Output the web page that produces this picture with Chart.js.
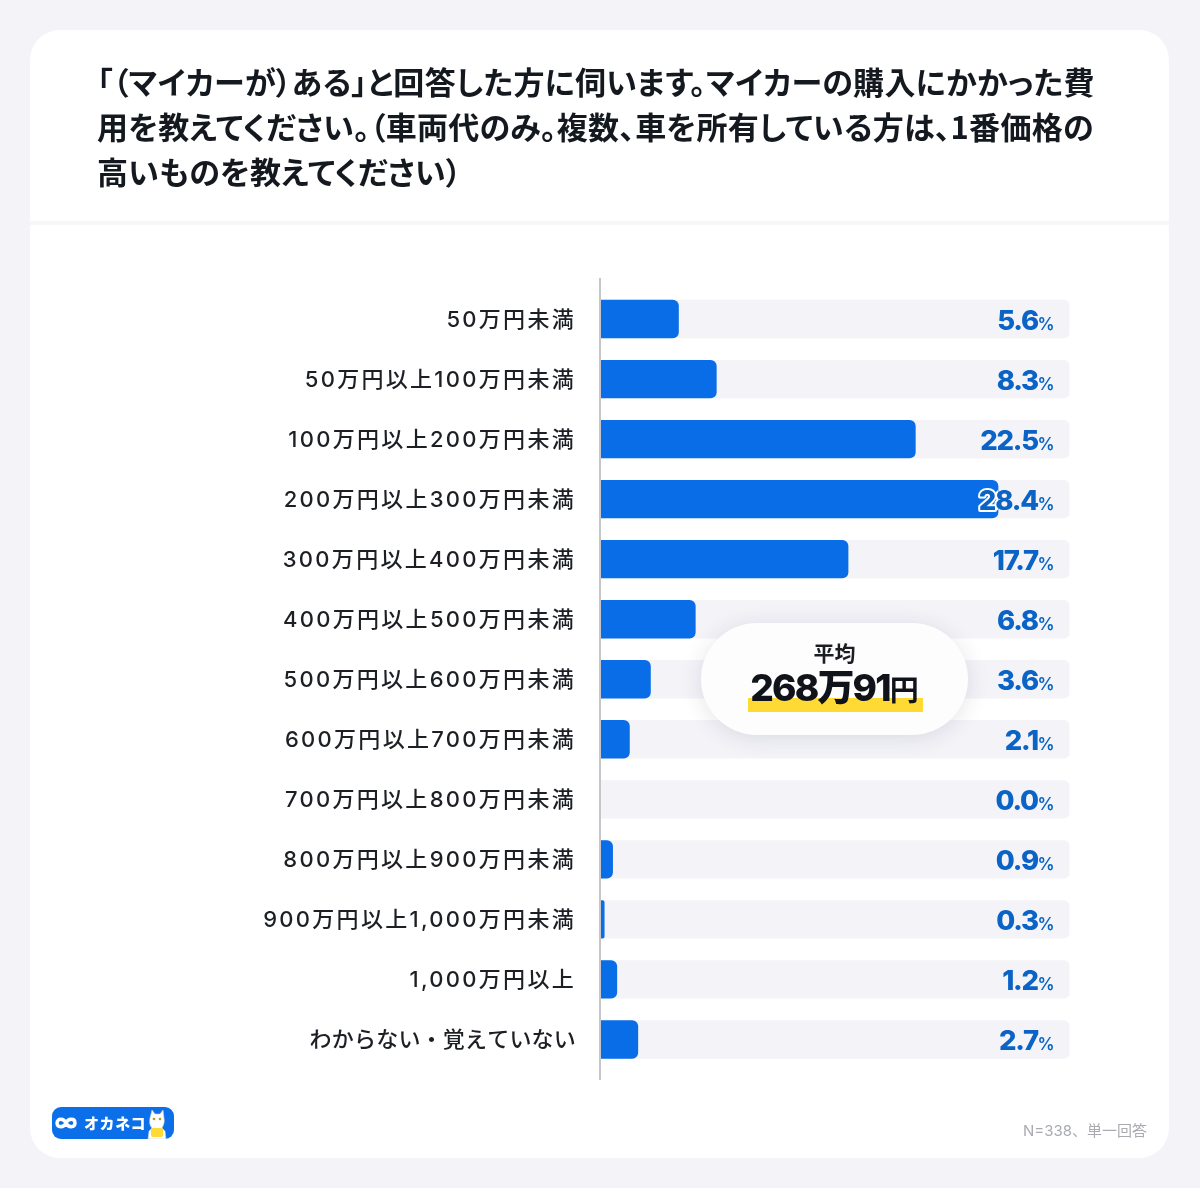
<!DOCTYPE html>
<html lang="ja"><head><meta charset="utf-8">
<script src="https://cdn.jsdelivr.net/npm/chart.js@4"></script>
<style>
html,body{margin:0;padding:0;background:#f3f3f8;width:1200px;height:1188px;overflow:hidden}
body{position:relative;font-family:'Noto Sans CJK JP',sans-serif}
#card{position:absolute;left:30px;top:30px;width:1139px;height:1128px;background:#fff;border-radius:30px}
#rule{position:absolute;left:30px;top:221px;width:1139px;height:4px;background:#f7f7fa}
#chart{position:absolute;left:0;top:0}
#title{position:absolute;left:97px;top:58px;width:1030px;font-weight:700;font-size:31px;line-height:45px;color:#14181f;font-feature-settings:"palt";white-space:nowrap;letter-spacing:.28px}
#pill{position:absolute;left:701px;top:623px;width:267px;height:112px;border-radius:56px;background:#fdfdfe;box-shadow:0 3px 22px rgba(40,40,70,.12)}
#pillA{position:absolute;left:0;right:0;top:13px;text-align:center;font-size:21px;font-weight:700;line-height:32px;color:#1a1d22}
#mark{position:absolute;left:47px;top:75px;width:175px;height:14px;background:#ffd934}
#pillB{position:absolute;left:0;right:0;top:41px;text-align:center;font:800 37px/48px Inter,'Noto Sans CJK JP';letter-spacing:-1.8px;color:#10141a}
#pillB small{font:700 29px/48px 'Noto Sans CJK JP';letter-spacing:0}
#note{position:absolute;right:53px;top:1121px;font:15px/20px Inter,'Noto Sans CJK JP';color:#a9abb1}
#logo{position:absolute;left:52px;top:1107px;width:122px;height:32px;border-radius:9px;background:#0a6fe8;overflow:hidden}
#logoT{position:absolute;left:32px;top:0;font-weight:900;font-size:15px;line-height:31px;color:#fff;letter-spacing:.6px}
#logo svg{position:absolute;left:0;top:0}
</style></head><body>
<div id="card"></div><div id="rule"></div>
<canvas id="chart" width="1200" height="1188"></canvas>
<div id="title">「（マイカーが）ある」と回答した方に伺います。マイカーの購入にかかった費<br>用を教えてください。（車両代のみ。複数、車を所有している方は、1番価格の<br>高いものを教えてください）</div>
<div id="pill"><div id="pillA">平均</div><div id="mark"></div><div id="pillB">268万91<small>円</small></div></div>
<div id="note">N=338、単一回答</div>
<div id="logo"><svg width="122" height="32" viewBox="0 0 122 32">
<path d="M17 16c-2-5-9-5-9 0s7 5 9 0c2-5 9-5 9 0s-7 5-9 0z" transform="translate(-3 0)" fill="none" stroke="#fff" stroke-width="3.4"/>
<path d="M100 3l3 4h5l3-4 1 8c1 5-1 8-2 10l3 3 1 8H96l1-8 3-3c-2-2-3-5-2-10z" fill="#fff" stroke="#c8ccd2" stroke-width=".6"/>
<rect x="99" y="21" width="12" height="9" rx="2" fill="#ffd934"/>
<circle cx="102" cy="12" r="1.3" fill="#b79a20"/><circle cx="108" cy="12" r="1.3" fill="#b79a20"/>
</svg><div id="logoT">オカネコ</div></div>
<script>
const categories = ['50万円未満','50万円以上100万円未満','100万円以上200万円未満','200万円以上300万円未満','300万円以上400万円未満','400万円以上500万円未満','500万円以上600万円未満','600万円以上700万円未満','700万円以上800万円未満','800万円以上900万円未満','900万円以上1,000万円未満','1,000万円以上','わからない・覚えていない'];
const shares = [5.6,8.3,22.5,28.4,17.7,6.8,3.6,2.1,0.0,0.9,0.3,1.2,2.7];
const trackValue = 33.5;
const tracks = categories.map(() => trackValue);

const valueLabels = {
  id:'valueLabels',
  afterDatasetsDraw(chart){
    const {ctx,scales:{x,y}} = chart;
    const right = x.getPixelForValue(trackValue) - 15;
    const bars = chart.getDatasetMeta(1).data;
    ctx.save();
    ctx.strokeStyle = '#c6c6ca'; ctx.lineWidth = 2;
    ctx.beginPath(); ctx.moveTo(x.left,chart.chartArea.top-11); ctx.lineTo(x.left,chart.chartArea.bottom+10.5); ctx.stroke();
    ctx.textBaseline = 'alphabetic';
    shares.forEach((v,i)=>{
      const cy = y.getPixelForValue(i);
      const base = cy + 11;
      const num = v.toFixed(1);
      ctx.font = '600 17px Inter, sans-serif'; ctx.textAlign='right'; ctx.letterSpacing='0px';
      ctx.fillStyle = '#0b63c6';
      const pctW = ctx.measureText('%').width;
      ctx.fillText('%', right, base);
      ctx.font = '800 27.5px Inter, sans-serif'; ctx.letterSpacing='-1.2px';
      const nx = right - pctW + 0.5;
      ctx.save();
      ctx.beginPath(); ctx.rect(x.left, cy-19, bars[i].x-x.left, 38); ctx.clip();
      ctx.strokeStyle='#fff'; ctx.lineWidth=4; ctx.lineJoin='round';
      ctx.strokeText(num,nx,base);
      ctx.restore();
      ctx.fillText(num,nx,base);
    });
    ctx.restore();
  }
};
// Tick text spacing: the reference tracks its labels out, and sets kana labels tighter.
const spacing = {
  id:'spacing',
  beforeDraw(chart){
    const ctx = chart.ctx;
    if(!ctx._origFill){
      ctx._origFill = ctx.fillText.bind(ctx);
      ctx.fillText = function(t,a,b){
        if(ctx._ticksOn){
          ctx.letterSpacing = /^[わ]/.test(t) ? '0.2px' : '2.3px';
          return ctx._origFill(t,a,b+1);
        }
        return ctx._origFill(t,a,b);
      };
    }
    ctx._ticksOn = true;
  },
  beforeDatasetsDraw(chart){ chart.ctx._ticksOn=false; chart.ctx.letterSpacing='0px'; }
};

new Chart(document.getElementById('chart'),{
  type:'bar',
  data:{labels:categories,datasets:[
    {label:'track',data:tracks,backgroundColor:'#f3f3f8',borderRadius:{topLeft:0,bottomLeft:0,topRight:6,bottomRight:6},borderSkipped:false,barThickness:37.7,order:2},
    {label:'割合',data:shares,backgroundColor:'#0a6de8',borderRadius:{topLeft:0,bottomLeft:0,topRight:6,bottomRight:6},borderSkipped:false,barThickness:37.7,order:1}
  ]},
  options:{
    indexAxis:'y',responsive:false,animation:false,devicePixelRatio:1,
    layout:{padding:{left:0,right:130.5,top:289,bottom:118.5}},
    plugins:{legend:{display:false},tooltip:{enabled:false},title:{display:false}},
    datasets:{bar:{grouped:false}},
    scales:{
      x:{display:false,min:0,max:trackValue},
      y:{
        afterFit(s){s.width=600;},
        grid:{display:false,drawTicks:false},border:{display:false},
        ticks:{color:'#1c1f24',padding:24,font:{family:"Inter,'Noto Sans CJK JP'",size:22,weight:'500'},autoSkip:false}
      }
    }
  },
  plugins:[spacing,valueLabels]
});
</script>
</body></html>
